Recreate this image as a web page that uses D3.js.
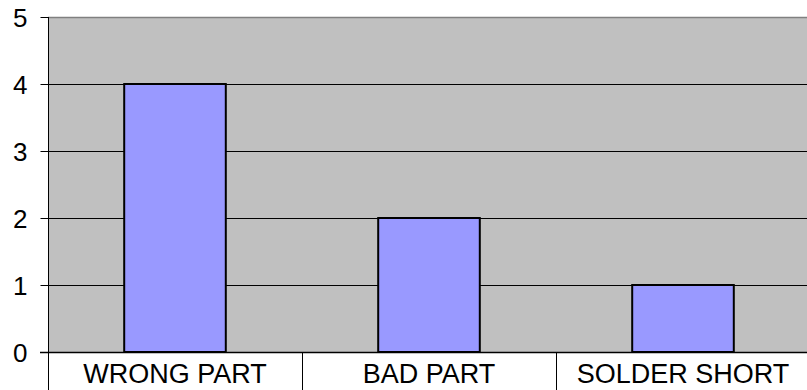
<!DOCTYPE html>
<html>
<head>
<meta charset="utf-8">
<script src="https://cdn.jsdelivr.net/npm/d3@7"></script>
<style>
  html, body { margin: 0; padding: 0; background: #ffffff; }
  svg { display: block; }
  text { font-family: Arial, "Liberation Sans", sans-serif; fill: #000; }
</style>
</head>
<body>
<svg id="chart" width="807" height="390"></svg>
<script>
// Defect counts by category
const categories = ["WRONG PART", "BAD PART", "SOLDER SHORT"];
const counts = [4, 2, 1];
const yTicks = [0, 1, 2, 3, 4, 5];

const svg = d3.select("#chart");
const margin = { left: 48, top: 17, right: -3, bottom: 38 };
const W = 807, H = 390;
const plotW = W - margin.left - margin.right;
const plotH = H - margin.top - margin.bottom;

const x = d3.scaleBand()
  .domain(categories)
  .range([margin.left, margin.left + plotW])
  .paddingInner(0.6)
  .paddingOuter(0.3);

const y = d3.scaleLinear()
  .domain([0, 5])
  .range([margin.top + plotH, margin.top]);

// Plot background
svg.append("rect")
  .attr("x", margin.left)
  .attr("y", margin.top)
  .attr("width", plotW)
  .attr("height", plotH)
  .attr("fill", "#c0c0c0");

// Top border of plot area
svg.append("line")
  .attr("x1", margin.left).attr("x2", margin.left + plotW)
  .attr("y1", margin.top + 0.5).attr("y2", margin.top + 0.5)
  .attr("stroke", "#808080").attr("stroke-width", 1.5);

// Horizontal gridlines
svg.append("g")
  .selectAll("line")
  .data(yTicks.filter(d => d > 0 && d < 5))
  .join("line")
  .attr("x1", margin.left).attr("x2", margin.left + plotW)
  .attr("y1", d => Math.round(y(d)) + 0.5)
  .attr("y2", d => Math.round(y(d)) + 0.5)
  .attr("stroke", "#000").attr("stroke-width", 1);

// Bars
svg.append("g")
  .selectAll("rect")
  .data(categories.map((c, i) => ({ c, v: counts[i] })))
  .join("rect")
  .attr("x", d => x(d.c))
  .attr("y", d => y(d.v))
  .attr("width", x.bandwidth())
  .attr("height", d => y(0) - y(d.v))
  .attr("fill", "#9999ff")
  .attr("stroke", "#000")
  .attr("stroke-width", 2);

// Y axis
const yAxis = d3.axisLeft(y)
  .tickValues(yTicks)
  .tickFormat(d3.format("d"))
  .tickSize(8)
  .tickPadding(13);

const gy = svg.append("g")
  .attr("transform", `translate(${margin.left + 0.5},0)`)
  .call(yAxis);
gy.select(".domain").remove();
gy.selectAll(".tick line").attr("stroke", "#000");
gy.selectAll(".tick text")
  .style("font-size", "26px")
  .attr("dy", "0.36em")
  .attr("fill", "#000");

// Y axis line extended down through the category label area
svg.append("line")
  .attr("x1", margin.left + 0.5).attr("x2", margin.left + 0.5)
  .attr("y1", margin.top).attr("y2", H)
  .attr("stroke", "#000");

// Zero baseline
svg.append("line")
  .attr("x1", margin.left - 8).attr("x2", margin.left + plotW)
  .attr("y1", Math.round(y(0)) + 0.5).attr("y2", Math.round(y(0)) + 0.5)
  .attr("stroke", "#000").attr("stroke-width", 1.5);

// Category dividers below the baseline
const step = x.step();
const bounds = categories.map((c, i) => margin.left + step * (i + 1));
svg.append("g")
  .selectAll("line")
  .data(bounds)
  .join("line")
  .attr("x1", d => Math.round(d) + 0.5).attr("x2", d => Math.round(d) + 0.5)
  .attr("y1", y(0)).attr("y2", H)
  .attr("stroke", "#000");

// Category labels
svg.append("g")
  .selectAll("text")
  .data(categories)
  .join("text")
  .attr("x", d => x(d) + x.bandwidth() / 2)
  .attr("y", 382.5)
  .attr("text-anchor", "middle")
  .style("font-size", "27px")
  .text(d => d);
</script>
</body>
</html>
